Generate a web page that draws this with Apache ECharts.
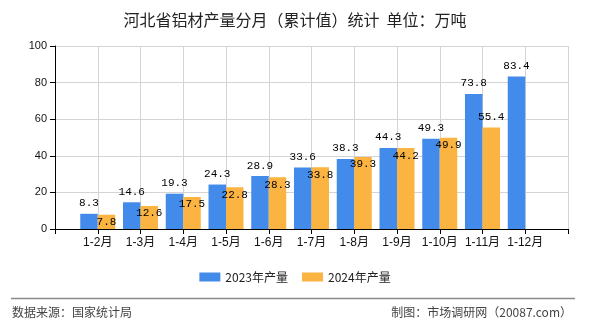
<!DOCTYPE html>
<html>
<head>
<meta charset="utf-8">
<title>河北省铝材产量分月（累计值）统计</title>
<script src="https://cdn.jsdelivr.net/npm/echarts@6/dist/echarts.min.js"></script>
<style>
  html, body { margin: 0; padding: 0; background: #fff; }
  #chart { width: 590px; height: 330px; }
</style>
</head>
<body>
<div id="chart"></div>
<script>
// Cumulative monthly output, 10k tonnes
const months = ['1-2月', '1-3月', '1-4月', '1-5月', '1-6月', '1-7月', '1-8月', '1-9月', '1-10月', '1-11月', '1-12月'];
const output2023 = [8.3, 14.6, 19.3, 24.3, 28.9, 33.6, 38.3, 44.3, 49.3, 73.8, 83.4];
const output2024 = [7.8, 12.6, 17.5, 22.8, 28.3, 33.8, 39.3, 44.2, 49.9, 55.4];
const seriesNames = ['2023年产量', '2024年产量'];
const yTicks = [0, 20, 40, 60, 80, 100];

const blue = '#428BEB';
const orange = '#FBB341';
const labelFont = { fontFamily: 'Liberation Mono, DejaVu Sans Mono, monospace', fontSize: 11, color: '#000' };

// The axis runs from an empty slot at each end so the months sit on the inner grid lines
const axisCategories = [''].concat(months, ['']);
const pad = arr => [null].concat(arr, new Array(axisCategories.length - 1 - arr.length).fill(null));

const chart = echarts.init(document.getElementById('chart'), null, { renderer: 'canvas' });
chart.setOption({
  animation: false,
  backgroundColor: '#fff',
  title: {
    text: '河北省铝材产量分月（累计值）统计  单位：万吨',
    left: 'center',
    top: 7,
    textStyle: { fontFamily: 'Noto Sans CJK SC', fontSize: 16, fontWeight: 'normal', color: '#222' }
  },
  legend: {
    data: seriesNames,
    left: 'center',
    top: 266,
    itemWidth: 21,
    itemHeight: 9,
    itemGap: 14,
    icon: 'rect',
    textStyle: { fontFamily: 'Noto Sans CJK SC', fontSize: 12, color: '#222' }
  },
  grid: { left: 55, right: 22, top: 46, bottom: 101, containLabel: false },
  xAxis: {
    type: 'category',
    data: axisCategories,
    boundaryGap: false,
    axisLine: { lineStyle: { color: '#000', width: 1 } },
    axisTick: { show: true, length: 5, interval: 0, lineStyle: { color: '#000' } },
    axisLabel: { interval: 0, margin: 8, fontFamily: 'Liberation Sans, Noto Sans CJK SC', fontSize: 12, color: '#111' },
    splitLine: { show: true, interval: 0, lineStyle: { color: '#d4d4d4', width: 1 } }
  },
  yAxis: {
    type: 'value',
    min: yTicks[0],
    max: yTicks[yTicks.length - 1],
    interval: yTicks[1] - yTicks[0],
    axisLine: { show: true, lineStyle: { color: '#000', width: 1 } },
    axisTick: { show: true, length: 5, lineStyle: { color: '#000' } },
    axisLabel: { margin: 8, fontFamily: 'Liberation Sans', fontSize: 11, color: '#111' },
    splitLine: { show: true, lineStyle: { color: '#d4d4d4', width: 1 } }
  },
  series: [
    {
      name: seriesNames[0],
      type: 'bar',
      data: pad(output2023),
      barWidth: 17.5,
      barGap: '0%',
      itemStyle: { color: blue },
      label: Object.assign({ show: true, position: 'top', distance: 5 }, labelFont)
    },
    {
      name: seriesNames[1],
      type: 'bar',
      data: pad(output2024).map((v, i) =>
        axisCategories[i] === '1-11月' ? { value: v, label: { position: 'top', distance: 5 } } : v),
      barWidth: 17.5,
      barGap: '0%',
      itemStyle: { color: orange },
      label: Object.assign({ show: true, position: 'insideTop', distance: 2 }, labelFont)
    }
  ],
  graphic: [
    {
      type: 'line',
      shape: { x1: 11, y1: 298.5, x2: 575, y2: 298.5 },
      style: { stroke: '#8a8a8a', lineWidth: 1.5 }
    },
    {
      type: 'text',
      left: 12,
      top: 306,
      style: { text: '数据来源：国家统计局', font: '12px "Noto Sans CJK SC"', fill: '#444' }
    },
    {
      type: 'text',
      right: 18,
      top: 306,
      style: { text: '制图：市场调研网（20087.com）', font: '12px "Noto Sans CJK SC"', fill: '#444' }
    }
  ]
});
</script>
</body>
</html>
